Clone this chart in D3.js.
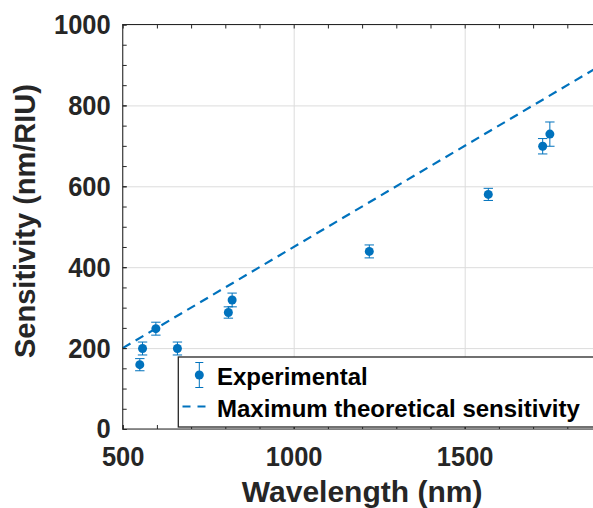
<!DOCTYPE html>
<html>
<head>
<meta charset="utf-8">
<script src="https://cdn.jsdelivr.net/npm/d3@7"></script>
<style>
  html, body { margin: 0; padding: 0; background: #fff; }
  svg { display: block; font-family: "Liberation Sans", Arial, sans-serif; font-weight: bold; }
  .axis text { fill: #262626; font-size: 28px; font-weight: bold; }
  .axis line { stroke: #262626; }
  .axis path { display: none; }
  .grid line { stroke: #dcdcdc; }
  .grid path { display: none; }
</style>
</head>
<body>
<div id="chart"></div>
<script>
const wavelength  = [550, 558, 597, 660, 809, 820, 1221, 1569, 1728, 1749];
const sensitivity = [159, 199, 248, 199, 288, 319, 439, 580, 699, 729];
const errBar      = [15, 16, 16, 16, 14, 17, 16, 15, 19, 30];

// Maximum theoretical sensitivity line end points
const theoryX = [500, 1900];
const theoryY = [200, 900];

const xMajor = [500, 1000, 1500];
const yMajor = [0, 200, 400, 600, 800, 1000];

const W = 593, H = 508;
const BLUE = "#0072BD";
const INK = "#262626";
const fmt = d3.format("d");

const x = d3.scaleLinear().domain([500, 1900]).range([122.7, 601.5]);
const y = d3.scaleLinear().domain([0, 1000]).range([429, 24.5]);
const [x0, x1] = x.range();
const [y0, y1] = y.range();

const svg = d3.select("#chart").append("svg")
  .attr("width", W).attr("height", H).attr("viewBox", `0 0 ${W} ${H}`);

// Grid on major ticks only
svg.append("g").attr("class", "grid")
  .attr("transform", `translate(0,${y0})`)
  .call(d3.axisBottom(x).tickValues(xMajor).tickSize(-(y0 - y1)).tickFormat(""));
svg.append("g").attr("class", "grid")
  .attr("transform", `translate(${x0},0)`)
  .call(d3.axisLeft(y).tickValues(yMajor).tickSize(-(x1 - x0)).tickFormat(""));

// Theoretical line
svg.append("line")
  .attr("x1", x(theoryX[0])).attr("y1", y(theoryY[0]))
  .attr("x2", x(theoryX[1])).attr("y2", y(theoryY[1]))
  .attr("stroke", BLUE).attr("stroke-width", 2.2)
  .attr("stroke-dasharray", "9,6");

// Error bars + points
const pts = wavelength.map((w, i) => ({ w, s: sensitivity[i], e: errBar[i] }));
const eb = svg.append("g").attr("stroke", BLUE).attr("stroke-width", 1);
pts.forEach(d => {
  const cx = x(d.w);
  eb.append("line").attr("x1", cx).attr("x2", cx)
    .attr("y1", y(d.s - d.e)).attr("y2", y(d.s + d.e));
  [d.s - d.e, d.s + d.e].forEach(v => {
    eb.append("line").attr("x1", cx - 4.7).attr("x2", cx + 4.7)
      .attr("y1", y(v)).attr("y2", y(v));
  });
});
svg.append("g").selectAll("circle").data(pts).join("circle")
  .attr("cx", d => x(d.w)).attr("cy", d => y(d.s))
  .attr("r", 4.5).attr("fill", BLUE);

// Axes: major ticks with labels, minor ticks, inward
const gx = svg.append("g").attr("class", "axis").attr("transform", `translate(0,${y0})`)
  .call(d3.axisBottom(x).tickValues(xMajor).tickSize(-4).tickPadding(17).tickFormat(fmt));
svg.append("g").attr("class", "axis").attr("transform", `translate(0,${y0})`)
  .call(d3.axisBottom(x).tickValues(d3.range(500, 1901, 100)).tickSize(-4).tickFormat(""));
svg.append("g").attr("class", "axis").attr("transform", `translate(0,${y1})`)
  .call(d3.axisTop(x).tickValues(d3.range(500, 1901, 100)).tickSize(-4).tickFormat(""));
const gy = svg.append("g").attr("class", "axis").attr("transform", `translate(${x0},0)`)
  .call(d3.axisLeft(y).tickValues(yMajor).tickSize(-4).tickPadding(12).tickFormat(fmt));
svg.append("g").attr("class", "axis").attr("transform", `translate(${x0},0)`)
  .call(d3.axisLeft(y).tickValues(d3.range(0, 1001, 50)).tickSize(-4).tickFormat(""));

// Slightly condensed tick labels, as in the original
[gx, gy].forEach(g => g.selectAll("text").each(function () {
  const len = this.getComputedTextLength();
  d3.select(this).attr("textLength", len * 0.91).attr("lengthAdjust", "spacingAndGlyphs");
}));

// Frame
svg.append("rect")
  .attr("x", x0).attr("y", y1).attr("width", x1 - x0).attr("height", y0 - y1)
  .attr("fill", "none").attr("stroke", INK).attr("stroke-width", 1);

// Axis labels
svg.append("text")
  .attr("x", (x0 + x1) / 2).attr("y", 502).attr("text-anchor", "middle")
  .attr("font-size", "30px").attr("fill", INK).text("Wavelength (nm)");
svg.append("text")
  .attr("transform", `translate(35,221) rotate(-90)`).attr("text-anchor", "middle")
  .attr("font-size", "29px").attr("fill", INK).text("Sensitivity (nm/RIU)");

// Legend
const lg = svg.append("g");
lg.append("rect").attr("x", 178.3).attr("y", 357).attr("width", 440).attr("height", 70)
  .attr("fill", "#fff").attr("stroke", INK).attr("stroke-width", 1.3);
lg.append("line").attr("x1", 199.3).attr("x2", 199.3).attr("y1", 362.5).attr("y2", 387.5)
  .attr("stroke", BLUE).attr("stroke-width", 1);
[362.5, 387.5].forEach(v => lg.append("line").attr("x1", 195.3).attr("x2", 203.3)
  .attr("y1", v).attr("y2", v).attr("stroke", BLUE).attr("stroke-width", 1));
lg.append("circle").attr("cx", 199.3).attr("cy", 375).attr("r", 4.5).attr("fill", BLUE);
lg.append("line").attr("x1", 182.5).attr("x2", 206).attr("y1", 406.5).attr("y2", 406.5)
  .attr("stroke", BLUE).attr("stroke-width", 2.2).attr("stroke-dasharray", "8,7");
lg.append("text").attr("x", 217).attr("y", 385).attr("font-size", "24px")
  .attr("fill", "#000").text("Experimental");
lg.append("text").attr("x", 217).attr("y", 417).attr("font-size", "24px")
  .attr("fill", "#000").text("Maximum theoretical sensitivity");
</script>
</body>
</html>
